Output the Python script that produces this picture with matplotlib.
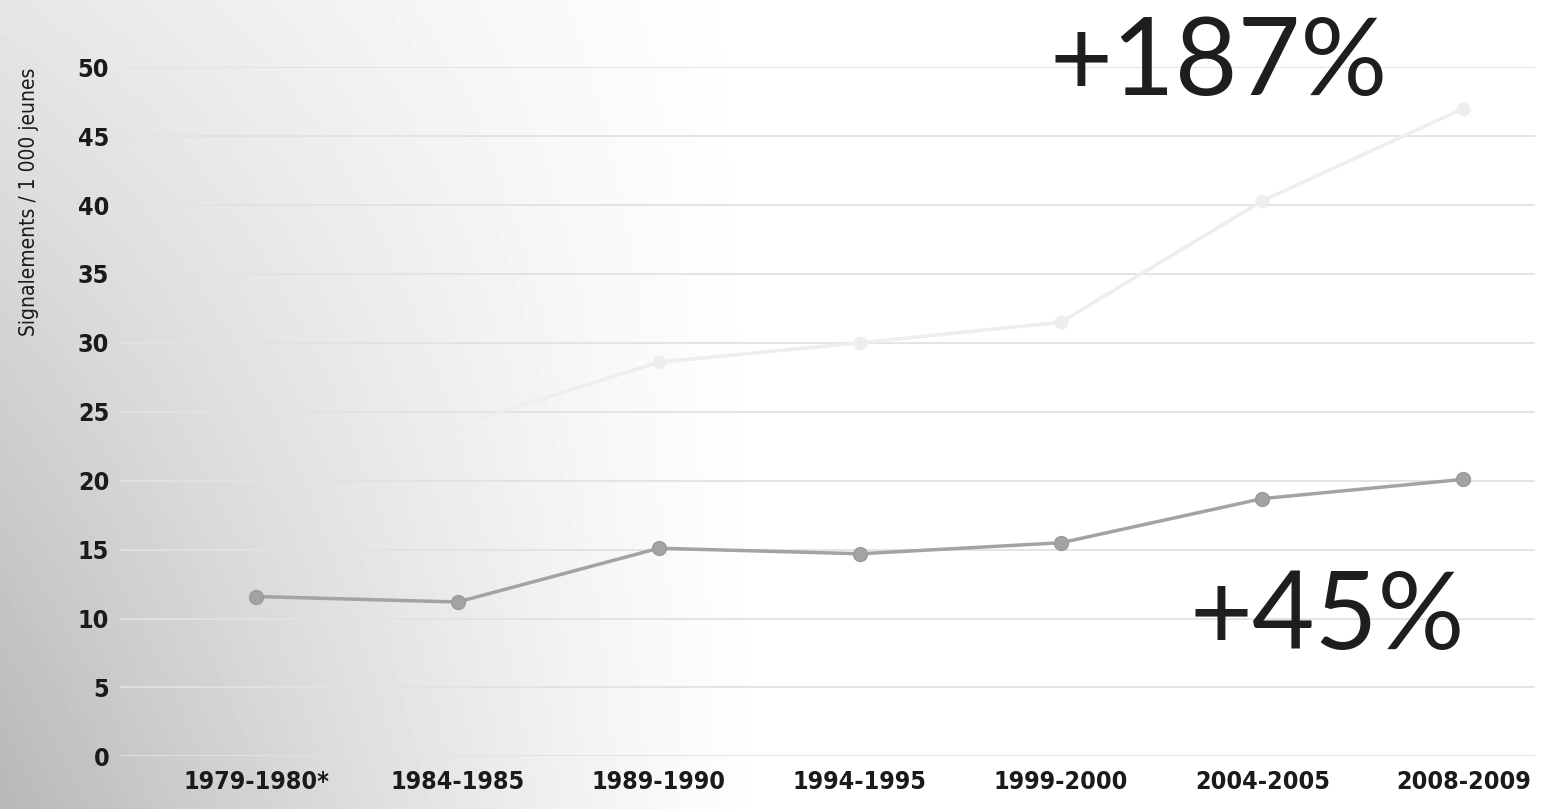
import numpy as np
import matplotlib
matplotlib.use('Agg')
import matplotlib.pyplot as plt

# périodes et taux de signalements / 1 000 jeunes
periodes = ['1979-1980*', '1984-1985', '1989-1990', '1994-1995',
            '1999-2000', '2004-2005', '2008-2009']
serie_basse = [11.6, 11.2, 15.1, 14.7, 15.5, 18.7, 20.1]
serie_haute = [np.nan, 24.0, 28.6, 30.0, 31.5, 40.3, 47.0]
yticks = [0, 5, 10, 15, 20, 25, 30, 35, 40, 45, 50]

fig = plt.figure(figsize=(15.43, 8.09), dpi=100)

# fond : grisé du scan à gauche
bg = fig.add_axes([0, 0, 1, 1], zorder=-1)
xx, yy = np.meshgrid(np.linspace(0, 1, 400), np.linspace(0, 1, 200))
d = np.clip(1 - xx / 0.5, 0, 1) ** 1.2 * (0.35 + 0.65 * yy)
bg.imshow(1 - 0.28 * d, cmap='gray', vmin=0, vmax=1, aspect='auto',
          extent=[0, 1, 0, 1], origin='upper')
bg.axis('off')

ax = fig.add_axes([0.078, 0.065, 0.917, 0.852])
ax.patch.set_alpha(0)
x = np.arange(len(periodes))

ax.plot(x, serie_haute, color='#eeeeee', lw=2.5, marker='o', ms=9, zorder=2)
ax.plot(x, serie_basse, color='#a3a3a3', lw=2.5, marker='o', ms=10,
        markeredgecolor='#9a9a9a', zorder=3)

ax.set_xlim(-0.676, 6.357)
ax.set_ylim(0, 50)
ax.set_yticks(yticks)
ax.set_xticks(x)
ax.set_xticklabels(periodes)
ax.grid(axis='y', color='#e2e2e2', lw=1.3)
ax.set_axisbelow(True)
for s in ax.spines.values():
    s.set_visible(False)
ax.tick_params(length=0)
ax.tick_params(axis='y', pad=8)
ax.tick_params(axis='x', pad=10)
for lab in ax.get_xticklabels() + ax.get_yticklabels():
    lab.set_family('DejaVu Sans')
    lab.set_fontstretch('condensed')
    lab.set_fontweight('bold')
    lab.set_fontsize(18)
    lab.set_color('#1a1a1a')

fig.text(0.019, 0.75, 'Signalements / 1 000 jeunes', rotation=90,
         ha='center', va='center', fontsize=15, family='DejaVu Sans',
         fontstretch='condensed', color='#1a1a1a')

fig.text(0.790, 0.92, '+187%', ha='center', va='center', fontsize=78,
         family='Lato', color='#1e1e1e')
fig.text(0.860, 0.236, '+45%', ha='center', va='center', fontsize=78,
         family='Lato', color='#1e1e1e')

fig.savefig('out.png', dpi=100)
